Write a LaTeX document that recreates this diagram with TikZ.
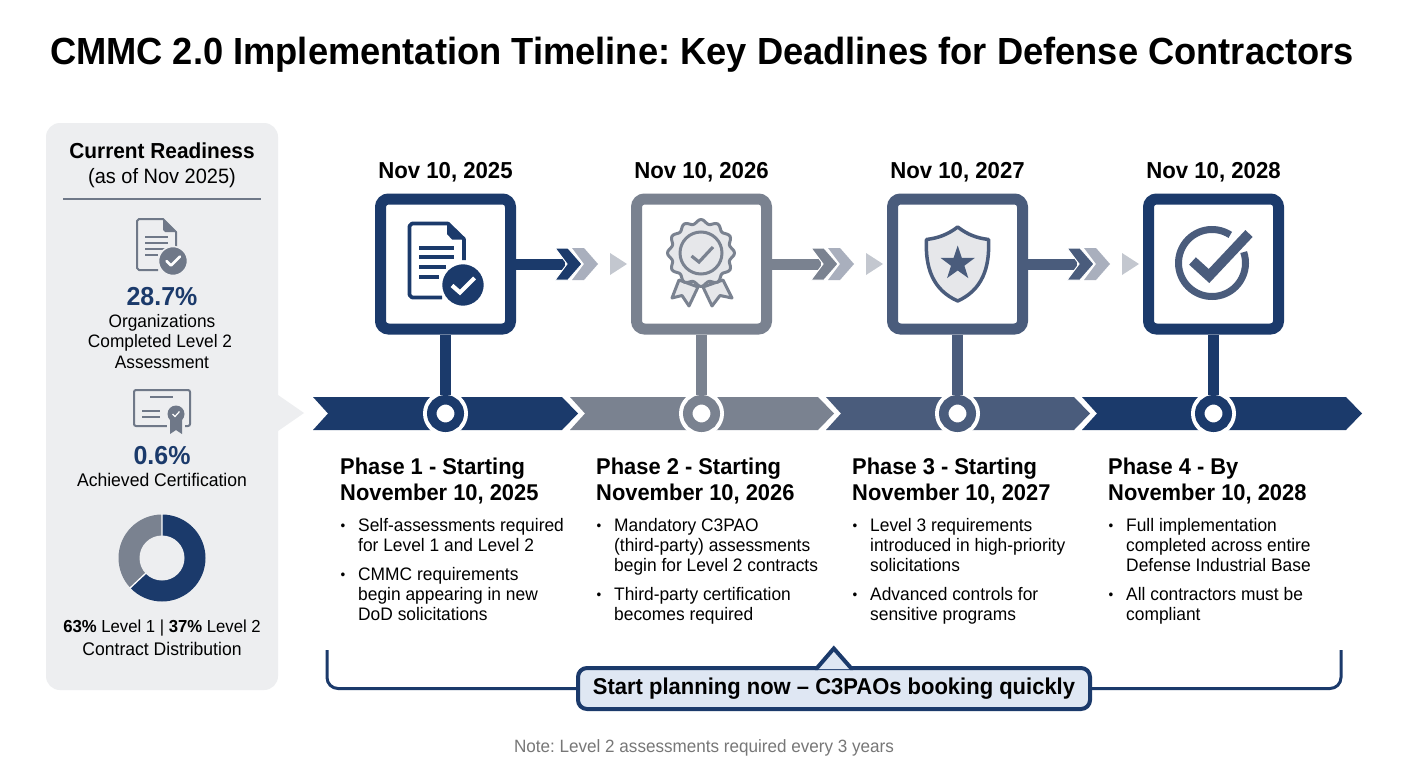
\documentclass[tikz,border=0pt]{standalone}
\usepackage{fontspec}
\setmainfont{Liberation Sans}[FakeStretch=0.96]
\AtBeginDocument{\frenchspacing}
\definecolor{navy}{HTML}{1B3A6B}
\definecolor{steel}{HTML}{7A8290}
\definecolor{slate}{HTML}{4A5C7C}
\definecolor{panelgray}{HTML}{EDEEF0}
\definecolor{iconfill}{HTML}{E6E7EA}
\definecolor{panelicon}{HTML}{6F7888}
\definecolor{chevlight}{HTML}{A9AFBD}
\definecolor{trilight}{HTML}{C3C7CF}
\definecolor{calloutfill}{HTML}{DFE7F3}
\definecolor{notegray}{HTML}{777777}
\tikzset{
  lbl/.style={inner sep=0pt,anchor=base},
  titletxt/.style={lbl,font=\fontsize{37.8}{40}\selectfont\bfseries},
  datetxt/.style={lbl,font=\fontsize{23.1}{26}\selectfont\bfseries},
  headtxt/.style={inner sep=0pt,anchor=north west,align=left,font=\fontsize{22.8}{26}\selectfont\bfseries},
  bodytxt/.style={inner sep=0pt,anchor=north west,align=left,font=\fontsize{18.1}{20}\selectfont},
  bul/.style={lbl,font=\fontsize{14}{16}\selectfont},
  paneltxt/.style={lbl,font=\fontsize{18}{20}\selectfont},
  bignum/.style={lbl,font=\fontsize{26}{27}\selectfont\bfseries,text=navy},
  phasebox/.style={rectangle,rounded corners=8pt,minimum size=130pt,line width=11pt,fill=white},
  halo/.style={circle,fill=white,minimum size=45pt,inner sep=0pt},
  dot/.style={circle,fill=white,minimum size=27.5pt,line width=9.5pt,inner sep=0pt},
}
\begin{document}
\begin{tikzpicture}[x=1pt,y=-1pt]
\useasboundingbox (0,0) rectangle (1408,768);
\fill[white] (0,0) rectangle (1408,768);

\node[titletxt] (title) at (702,64) {CMMC 2.0 Implementation Timeline: Key Deadlines for Defense Contractors};

% left panel
\fill[panelgray] (278,395) -- (304,413) -- (278,431) -- cycle;
\node[rectangle,rounded corners=14pt,fill=panelgray,minimum width=232pt,minimum height=567pt,inner sep=0pt] (panel) at (162,406.5) {};
\node[lbl,font=\fontsize{21.7}{25}\selectfont\bfseries] (ptitle) at (162,158.5) {Current Readiness};
\node[lbl,font=\fontsize{20.8}{22}\selectfont] (psub) at (162,183) {(as of Nov 2025)};
\coordinate (rulea) at (63,199);
\coordinate (ruleb) at (261,199);
\draw[panelicon,line width=1.5pt] (rulea) -- (ruleb);

% small document icon
\draw[panelicon,line width=2pt,line join=round] (158,270) -- (139,270) -- (137,268) -- (137,221) -- (139,219) -- (163,219) -- (176,232) -- (176,248);
\fill[panelicon] (163,219) -- (176,232) -- (165,232) -- (163,230) -- cycle;
\draw[panelicon,line width=1.8pt] (145,237) -- (168,237) (145,243) -- (168,243) (145,249) -- (165,249) (145,255) -- (158,255);
\fill[panelicon,draw=panelgray,line width=1.5pt] (173,261) circle[radius=14.5];
\draw[white,line width=2.6pt,line cap=round,line join=round] (166.5,261) -- (171,265.5) -- (180,256.5);

\node[bignum] (num1) at (162,305) {28.7\%};
\node[paneltxt] (o1) at (162,327) {Organizations};
\node[paneltxt] (o2) at (160,347) {Completed Level 2};
\node[paneltxt] (o3) at (162,368) {Assessment};

% certificate icon
\draw[panelicon,line width=2pt,rounded corners=2pt] (134,390) rectangle (190,426);
\draw[panelicon,line width=1.8pt] (150,397) -- (173,397) (142,411) -- (160,411) (142,417) -- (160,417);
\fill[panelgray] (176,414) circle[radius=11];
\fill[panelgray] (167,420) rectangle (185,428);
\fill[panelicon] (170,418) -- (170,434) -- (176,430) -- (182,434) -- (182,418) -- cycle;
\fill[panelicon] (176,414) circle[radius=8.5];
\draw[white,line width=1.2pt] (172.5,414) -- (175,416.5) -- (179.5,411.5);

\node[bignum] (num2) at (162,464) {0.6\%};
\node[lbl,font=\fontsize{18.3}{20}\selectfont] (ach) at (162,486) {Achieved Certification};

% donut
\fill[steel] (162,558) -- (162,514.5) arc[start angle=-90,end angle=-223.2,radius=43.5] -- cycle;
\fill[navy] (162,558) -- (162,514.5) arc[start angle=-90,end angle=136.8,radius=43.5] -- cycle;
\draw[white,line width=1.3pt] (162,514) -- (162,558) -- ({162-44*cos(43.2)},{558+44*sin(43.2)});
\fill[panelgray] (162,558) circle[radius=22.5];

\node[lbl,font=\fontsize{17.4}{20}\selectfont] (dist) at (162,632) {\textbf{63\%} Level 1 | \textbf{37\%} Level 2};
\node[lbl,font=\fontsize{18.3}{20}\selectfont] (cd) at (162,655) {Contract Distribution};

% ribbon
\foreach \s/\n/\sh/\t/\c in {313/328/562/578/navy,570/585/818/834/steel,826/841/1074/1090/slate,1082/1097/1346/1362/navy}{
  \fill[\c] (\s,397) -- (\sh,397) -- (\t,413.5) -- (\sh,430) -- (\s,430) -- (\n,413.5) -- cycle;
}

% boxes, stems, dots, arrows
\foreach \i/\x/\c in {1/445.5/navy,2/701.5/steel,3/957.5/slate,4/1213.5/navy}{
  \node[phasebox,draw=\c] (box\i) at (\x,264) {};
  \node[halo] (halo\i) at (\x,413.5) {};
  \node[dot,draw=\c] (dot\i) at (\x,413.5) {};
  \draw[\c,line width=11pt] (box\i.south) -- (dot\i.north);
}
\foreach \i/\x/\c in {1/445.5/navy,2/701.5/steel,3/957.5/slate}{
  \coordinate (tip\i) at ({\x+119},264);
  \draw[\c,line width=11pt] (box\i.east) -- (tip\i);
  \begin{scope}[shift={(\x,0)}]
    \fill[chevlight] (126.5,248) -- (138.5,248) -- (152.5,264) -- (138.5,280) -- (126.5,280) -- (138.5,264) -- cycle;
    \fill[\c,draw=white,line width=1pt] (109.5,248) -- (122.5,248) -- (136.5,264) -- (122.5,280) -- (109.5,280) -- (121.5,264) -- cycle;
    \fill[trilight] (164.5,253) -- (181.5,264) -- (164.5,275) -- cycle;
  \end{scope}
}

% phase 1 icon
\draw[navy,line width=3.6pt,line join=round] (442,297.5) -- (412,297.5) -- (409.5,295) -- (409.5,226) -- (412,223.5) -- (448,223.5) -- (464,239) -- (464,260);
\fill[navy] (447,222) -- (465.5,239.5) -- (452,239.5) -- (447,234) -- cycle;
\draw[navy,line width=3.4pt] (419,248) -- (454,248) (419,257) -- (454,257) (419,267) -- (446,267) (419,277) -- (439,277);
\fill[navy,draw=white,line width=2.5pt] (463,285) circle[radius=22];
\draw[white,line width=4.2pt,line join=miter] (452,285.5) -- (460,292.5) -- (474.5,278);

% phase 2 icon
\draw[steel,fill=iconfill,line width=3pt,line join=round] (679,280) -- (672,298) -- (682,295.5) -- (689,306) -- (698,287) -- cycle;
\draw[steel,fill=iconfill,line width=3pt,line join=round] (723,280) -- (732,298) -- (720,295.5) -- (712,306) -- (703,287) -- cycle;
\draw[steel,fill=iconfill,line width=3pt,line join=round] plot[domain=0:360,samples=121,variable=\a] ({701+(31.5+2*cos(12*\a))*cos(\a)},{253+(31.5+2*cos(12*\a))*sin(\a)}) -- cycle;
\draw[steel,line width=3pt] (701,253) circle[radius=21];
\draw[steel,line width=3.2pt,line join=miter] (691.5,256) -- (699,262) -- (713,247);

% phase 3 icon
\draw[slate,fill=iconfill,line width=3.5pt,line join=round] (957.7,227) .. controls (947,235) and (938,238) .. (926.5,239.5) .. controls (925,268) and (933,290) .. (957.7,301) .. controls (982,290) and (990,268) .. (988.5,239.5) .. controls (977,238) and (968,235) .. (957.7,227) -- cycle;
\fill[slate] (957.7,245.5) -- (961.8,257.8) -- (974.8,257.9) -- (964.4,265.7) -- (968.3,278.1) -- (957.7,270.5) -- (947.1,278.1) -- (951,265.7) -- (940.6,257.9) -- (953.6,257.8) -- cycle;

% phase 4 icon
\draw[slate,line width=7pt] ({1212+33.5*cos(57)},{263-33.5*sin(57)}) arc[start angle=-57,end angle=-379,radius=33.5];
\draw[slate,line width=10pt,line join=miter] (1192.5,261) -- (1209,276) -- (1249,233.5);

% dates
\node[datetxt] (d1) at (445.5,178.5) {Nov 10, 2025};
\node[datetxt] (d2) at (701.5,178.5) {Nov 10, 2026};
\node[datetxt] (d3) at (957.5,178.5) {Nov 10, 2027};
\node[datetxt] (d4) at (1213.5,178.5) {Nov 10, 2028};

% phase text
\node[headtxt] (h1) at (340,456) {\strut Phase 1 - Starting\\November 10, 2025};
\node[headtxt] (h2) at (596,456) {\strut Phase 2 - Starting\\November 10, 2026};
\node[headtxt] (h3) at (852,456) {\strut Phase 3 - Starting\\November 10, 2027};
\node[headtxt] (h4) at (1108,456) {\strut Phase 4 - By\\November 10, 2028};

\node[bul] (b11) at (343,530) {•};
\node[bodytxt] (t11) at (358,517) {\strut Self-assessments required\\for Level 1 and Level 2};
\node[bul] (b12) at (343,579) {•};
\node[bodytxt] (t12) at (358,566) {\strut CMMC requirements\\begin appearing in new\\DoD solicitations};

\node[bul] (b21) at (599,530) {•};
\node[bodytxt] (t21) at (614,517) {\strut Mandatory C3PAO\\(third-party) assessments\\begin for Level 2 contracts};
\node[bul] (b22) at (599,599) {•};
\node[bodytxt] (t22) at (614,586) {\strut Third-party certification\\becomes required};

\node[bul] (b31) at (855,530) {•};
\node[bodytxt] (t31) at (870,517) {\strut Level 3 requirements\\introduced in high-priority\\solicitations};
\node[bul] (b32) at (855,599) {•};
\node[bodytxt] (t32) at (870,586) {\strut Advanced controls for\\sensitive programs};

\node[bul] (b41) at (1111,530) {•};
\node[bodytxt] (t41) at (1126,517) {\strut Full implementation\\completed across entire\\Defense Industrial Base};
\node[bul] (b42) at (1111,599) {•};
\node[bodytxt] (t42) at (1126,586) {\strut All contractors must be\\compliant};

% bracket and callout
\coordinate (bl) at (327,650);
\coordinate (br) at (1341,650);
\node[rectangle,rounded corners=9pt,draw=navy,fill=calloutfill,line width=4pt,minimum width=512pt,minimum height=41pt,inner sep=0pt,font=\fontsize{22.9}{26}\selectfont\bfseries] (call) at (834,688.5) {\raisebox{-1.5pt}{Start planning now -- C3PAOs booking quickly}};
\draw[navy,line width=3pt,rounded corners=11pt] (bl) |- (call.west);
\draw[navy,line width=3pt,rounded corners=11pt] (call.east) -| (br);
\fill[calloutfill] (815,669) -- (833.8,649) -- (853,669) -- cycle;
\draw[navy,line width=4pt,line join=miter] (815,668) -- (817,668) -- (833.8,648.5) -- (851,668) -- (853,668);

\node[lbl,font=\fontsize{17.8}{19}\selectfont,text=notegray] (note) at (704,752) {Note: Level 2 assessments required every 3 years};
\end{tikzpicture}
\end{document}
